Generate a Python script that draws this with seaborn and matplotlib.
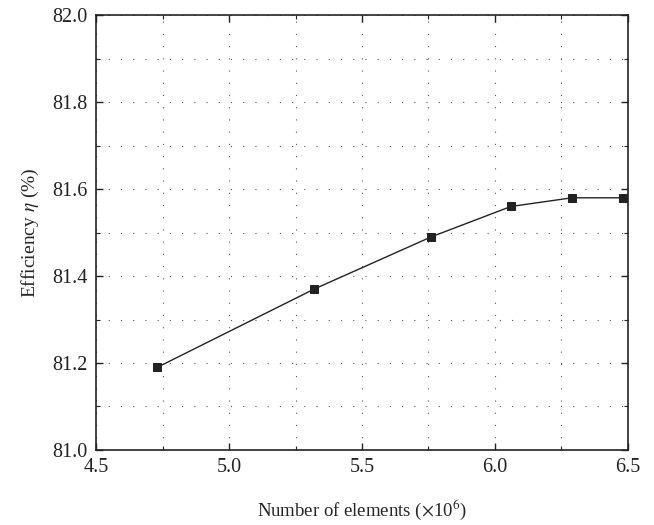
import numpy as np
import pandas as pd
import seaborn as sns
import matplotlib.pyplot as plt
from matplotlib.ticker import MultipleLocator

# values
elements = [4.73, 5.32, 5.76, 6.06, 6.29, 6.48]   # x 10^6
efficiency = [81.19, 81.37, 81.49, 81.56, 81.58, 81.58]  # %

df = pd.DataFrame({"elements": elements, "efficiency": efficiency})

sns.set_style("ticks")
plt.rcParams["font.family"] = ["Liberation Serif", "DejaVu Serif"]
plt.rcParams["mathtext.fontset"] = "stix"
plt.rcParams["font.size"] = 12

fig = plt.figure(figsize=(6.54, 5.25), dpi=100)
ax = fig.add_axes([0.147, 0.143, 0.813, 0.828])

sns.lineplot(data=df, x="elements", y="efficiency", ax=ax,
             color="#222222", linewidth=1.0, marker="s", markersize=6.3,
             markeredgecolor="#222222", markerfacecolor="#222222")

ax.set_xlim(4.5, 6.5)
ax.set_ylim(81.0, 82.0)
ax.xaxis.set_major_locator(MultipleLocator(0.5))
ax.xaxis.set_minor_locator(MultipleLocator(0.25))
ax.yaxis.set_major_locator(MultipleLocator(0.2))
ax.yaxis.set_minor_locator(MultipleLocator(0.1))
ax.xaxis.set_major_formatter(plt.FormatStrFormatter("%.1f"))
ax.yaxis.set_major_formatter(plt.FormatStrFormatter("%.1f"))

ax.grid(which="both", color="#555555", linewidth=0.8, linestyle=(0, (1, 10)))
ax.tick_params(which="both", direction="in", top=True, right=True,
               labelsize=14.5, colors="#222222")
ax.tick_params(which="major", length=5, width=1, pad=6)
ax.tick_params(which="minor", length=3, width=0.8)
for s in ax.spines.values():
    s.set_linewidth(1.2)
    s.set_color("#222222")

ax.set_xlabel(r"Number of elements ($\times$10$^6$)", fontsize=13.5, labelpad=14)
ax.set_ylabel(r"Efficiency $\eta$ (%)", fontsize=14, labelpad=8)

fig.savefig("out.png", dpi=100)
